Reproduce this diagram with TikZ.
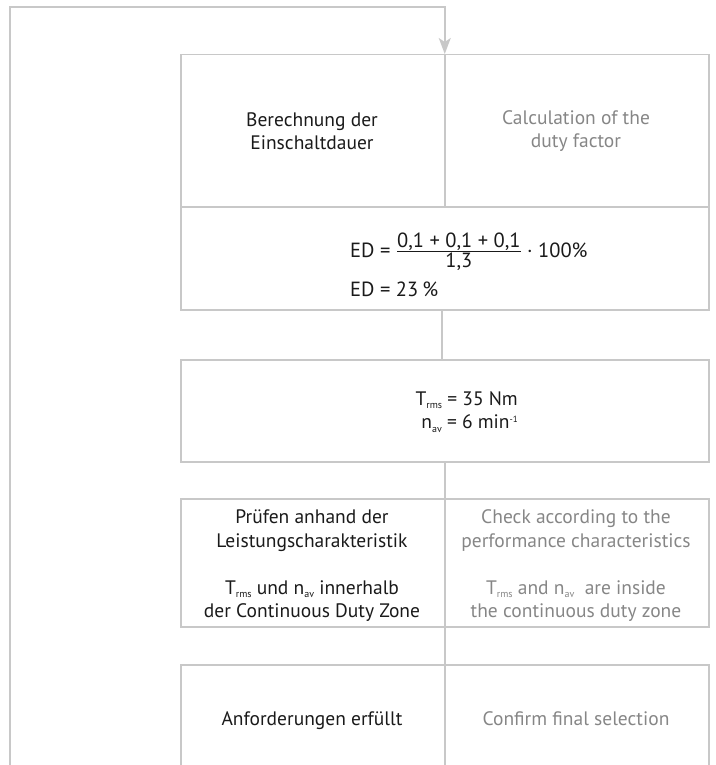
\documentclass[tikz,border=0pt]{standalone}
\usepackage{fontspec}
\setmainfont{PT Sans}
\usepackage{amsmath}
\usetikzlibrary{arrows.meta}
\definecolor{linegray}{HTML}{C8C8C8}
\definecolor{engray}{HTML}{868686}
\definecolor{detext}{HTML}{1A1A1A}
\newcommand{\lowtxt}[1]{\raisebox{-0.35ex}{\fontsize{10}{10}\selectfont #1}}
\newcommand{\hightxt}[1]{\raisebox{0.7ex}{\fontsize{9}{9}\selectfont #1}}
\begin{document}
\begin{tikzpicture}[x=1pt,y=-1pt,
  frame/.style={draw=linegray, line width=1.5pt, inner sep=0pt, anchor=north west},
  conn/.style={draw=linegray, line width=1.5pt},
  detxt/.style={text=detext, align=center, font=\fontsize{19.5}{23.5}\selectfont},
  entxt/.style={text=engray, align=center, font=\fontsize{19.5}{23.5}\selectfont},
  formtxt/.style={text=detext, font=\fontsize{20.5}{24}\selectfont, anchor=base west, inner sep=0pt},
  loopline/.style={conn, -{Stealth[length=16pt, width=12pt, inset=4pt]}}
]
\useasboundingbox (0,0) rectangle (715,765);
\clip (0,0) rectangle (715,765);
% boxes
\node[frame, minimum width=528pt, minimum height=152pt] (b1) at (180,54) {};
\node[frame, minimum width=528pt, minimum height=103pt] (b2) at (180,206) {};
\node[frame, minimum width=528pt, minimum height=102pt] (b3) at (180,359) {};
\node[frame, minimum width=528pt, minimum height=128pt] (b4) at (180,498) {};
\node[frame, minimum width=528pt, minimum height=130pt] (b5) at (180,664) {};
% dividers
\draw[conn] (b1.north) -- (b1.south);
\draw[conn] (b4.north) -- (b4.south);
\draw[conn] (b5.north) -- (b5.south);
% connectors
\draw[conn] ([xshift=-3pt]b2.south) -- ([xshift=-3pt]b3.north);
\draw[conn] (b3.south) -- (b4.north);
\draw[conn] (b4.south) -- (b5.north);
% feedback loop
\coordinate (loopbot) at (10,765);
\coordinate (looptop) at (10,7);
\draw[loopline] (loopbot) -- (looptop) -| (b1.north);
% texts
\node[detxt] (t1de) at (312,131) {Berechnung der\\Einschaltdauer};
\node[entxt] (t1en) at (576,131) {Calculation of the\\duty factor};
\node[formtxt] (f1) at (350,257) {ED = $\genfrac{}{}{0.9pt}{1}{\mbox{0,1 + 0,1 + 0,1}}{\mbox{1,3}}$ · 100\%};
\node[formtxt] (f2) at (350,296) {ED = 23\hspace{0.2em}\%};
\node[detxt, align=right, anchor=east, inner sep=0pt] (t3) at (518,412) {T\lowtxt{rms} = 35 Nm\\n\lowtxt{av} = 6 min\hightxt{-1}};
\node[detxt] (t4de) at (312,566) {Prüfen anhand der\\Leistungscharakteristik\\[23.5pt]T\lowtxt{rms} und n\lowtxt{av} innerhalb\\der Continuous Duty Zone};
\node[entxt] (t4en) at (576,566) {Check according to the\\performance characteristics\\[23.5pt]T\lowtxt{rms} and n\lowtxt{av}~ are inside\\the continuous duty zone};
\node[detxt, anchor=base] (t5de) at (312,725) {Anforderungen erfüllt};
\node[entxt, anchor=base] (t5en) at (576,725) {Confirm final selection};
\end{tikzpicture}
\end{document}
